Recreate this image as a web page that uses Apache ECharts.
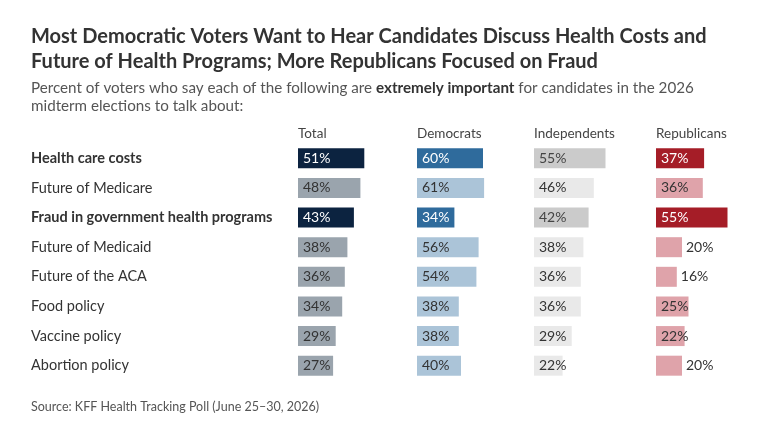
<!DOCTYPE html>
<html>
<head>
<meta charset="utf-8">
<script src="https://cdn.jsdelivr.net/npm/echarts@6/dist/echarts.min.js"></script>
<style>
  html, body { margin: 0; padding: 0; background: #fff; }
  #chart { width: 768px; height: 432px; }
</style>
</head>
<body>
<div id="chart"></div>
<script>
// data
const categories = ['Health care costs', 'Future of Medicare', 'Fraud in government health programs',
  'Future of Medicaid', 'Future of the ACA', 'Food policy', 'Vaccine policy', 'Abortion policy']
const highlightRows = [0, 2]
const columnNames = ['Total', 'Democrats', 'Independents', 'Republicans']
const total = [51, 48, 43, 38, 36, 34, 29, 27]
const democrats = [60, 61, 34, 56, 54, 38, 38, 40]
const independents = [55, 46, 42, 38, 36, 36, 29, 22]
const republicans = [37, 36, 55, 20, 16, 25, 22, 20]

const FONT = 'Lato'
const columns = [
  { values: total, left: 298, width: 130, hi: '#0c2340', lo: '#9aa4ad', hiText: '#fff', loText: '#333' },
  { values: democrats, left: 417, width: 110, hi: '#2f6b9c', lo: '#abc4d8', hiText: '#fff', loText: '#333' },
  { values: independents, left: 534, width: 130, hi: '#cbcbcb', lo: '#e9e9e9', hiText: '#444', loText: '#333' },
  { values: republicans, left: 656, width: 130, hi: '#a51d27', lo: '#dfa3aa', hiText: '#fff', loText: '#333' }
]

const grid = [], xAxis = [], yAxis = [], series = []
columns.forEach((col, i) => {
  grid.push({ left: col.left, width: col.width, top: 143.5, height: 237, outerBoundsMode: 'none', containLabel: false })
  xAxis.push({ type: 'value', gridIndex: i, min: 0, max: 100, show: false })
  yAxis.push({
    type: 'category', gridIndex: i, inverse: true,
    data: categories,
    axisLine: { show: false }, axisTick: { show: false },
    axisLabel: {
      show: i === 0, margin: 10,
      formatter: (v, k) => (highlightRows.includes(k) ? '{b|' : '{n|') + v + '}',
      rich: {
        n: { width: 257, align: 'left', fontFamily: FONT, fontSize: 14.5, color: '#333' },
        b: { width: 257, align: 'left', fontFamily: FONT, fontSize: 14.5, fontWeight: 'bold', color: '#333' }
      }
    },
    name: columnNames[i], nameLocation: 'start', nameGap: 3,
    nameTextStyle: { align: 'left', fontFamily: FONT, fontSize: 13.5, color: '#444' }
  })
  series.push({
    type: 'bar', xAxisIndex: i, yAxisIndex: i, barWidth: 20,
    data: col.values.map((v, k) => {
      const hi = highlightRows.includes(k)
      const outside = v <= 20
      return {
        value: v,
        itemStyle: { color: hi ? col.hi : col.lo },
        label: {
          position: outside ? 'right' : 'insideLeft',
          distance: outside ? 4 : 5,
          color: outside ? '#333' : (hi ? col.hiText : col.loText)
        }
      }
    }),
    label: { show: true, formatter: '{c}%', fontFamily: FONT, fontSize: 14 },
    silent: true
  })
})

const option = {
  animation: false,
  title: [
    {
      text: 'Most Democratic Voters Want to Hear Candidates Discuss Health Costs and\nFuture of Health Programs; More Republicans Focused on Fraud',
      left: 31, top: 24, padding: 0,
      textStyle: { fontFamily: FONT, fontSize: 20, fontWeight: 'bold', color: '#333', lineHeight: 25 }
    },
    {
      text: '{n|Percent of voters who say each of the following are }{b|extremely important}{n| for candidates in the 2026}\n{n|midterm elections to talk about:}',
      left: 31, top: 79, padding: 0,
      textStyle: {
        fontWeight: 'normal',
        rich: {
          n: { fontFamily: FONT, fontSize: 15.2, fontWeight: 'normal', color: '#555', lineHeight: 18 },
          b: { fontFamily: FONT, fontSize: 15.2, fontWeight: 'bold', color: '#333', lineHeight: 18 }
        }
      }
    },
    {
      text: 'Source: KFF Health Tracking Poll (June 25–30, 2026)',
      left: 31, top: 400, padding: 0,
      textStyle: { fontFamily: FONT, fontSize: 12.5, fontWeight: 'normal', color: '#555' }
    }
  ],
  grid, xAxis, yAxis, series
}

const chart = echarts.init(document.getElementById('chart'))
chart.setOption(option)
</script>
</body>
</html>
